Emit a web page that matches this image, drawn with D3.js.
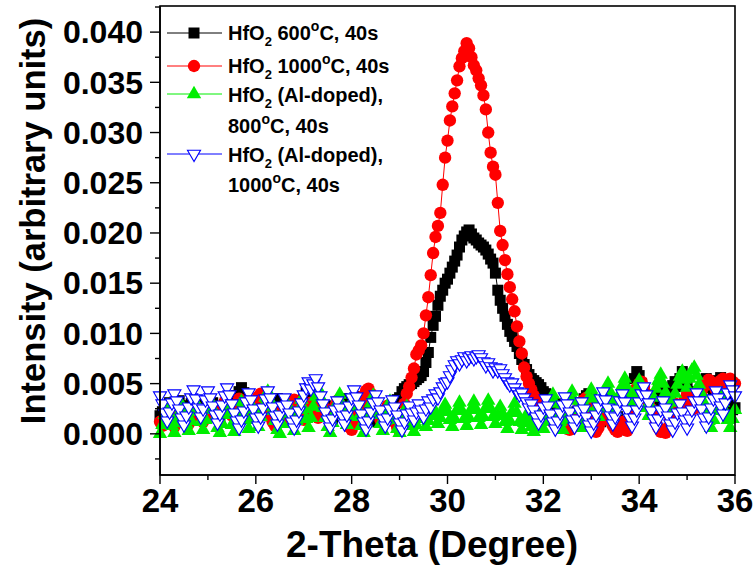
<!DOCTYPE html>
<html><head><meta charset="utf-8">
<script src="https://cdn.jsdelivr.net/npm/d3@7"></script>
<style>body{margin:0;background:#fff}svg{display:block}text{font-family:"Liberation Sans",Arial,sans-serif;font-weight:bold;fill:#000}</style>
</head><body>
<script>
// 2-Theta sampling grid: start and step (degrees)
const thetaStart = 24, thetaStep = 0.05;
const xTicks = [24,25,26,27,28,29,30,31,32,33,34,35,36];
const xLabels = ["24","26","28","30","32","34","36"];
const yTicks = [0,0.005,0.010,0.015,0.020,0.025,0.030,0.035,0.040];
const yLabels = ["0.000","0.005","0.010","0.015","0.020","0.025","0.030","0.035","0.040"];

const hfo2_600 = [
0.0018,0.0022,0.0015,0.0026,0.0031,0.0024,0.0019,0.0027,0.0033,0.0028,0.0021,0.0017,0.0025,0.0030,0.0023,0.0019,0.0026,0.0032,0.0029,0.0022,
0.0018,0.0025,0.0031,0.0027,0.0020,0.0016,0.0023,0.0029,0.0034,0.0030,0.0026,0.0033,0.0038,0.0042,0.0046,0.0041,0.0035,0.0029,0.0024,0.0020,
0.0017,0.0023,0.0028,0.0032,0.0026,0.0021,0.0018,0.0024,0.0030,0.0035,0.0031,0.0027,0.0022,0.0019,0.0025,0.0029,0.0033,0.0028,0.0024,0.0030,
0.0036,0.0041,0.0045,0.0039,0.0032,0.0027,0.0023,0.0019,0.0024,0.0028,0.0022,0.0018,0.0015,0.0021,0.0026,0.0031,0.0035,0.0030,0.0025,0.0020,
0.0016,0.0022,0.0027,0.0032,0.0037,0.0033,0.0028,0.0024,0.0019,0.0015,0.0012,0.0018,0.0023,0.0020,0.0016,0.0013,0.0019,0.0025,0.0030,0.0034,
0.0036,0.0042,0.0045,0.0047,0.0049,0.0050,0.0052,0.0054,0.0056,0.0058,0.0062,0.0071,0.0081,0.0096,0.0108,0.0117,0.0128,0.0137,0.0143,0.0150,
0.0154,0.0160,0.0166,0.0172,0.0178,0.0186,0.0193,0.0197,0.0201,0.0203,0.0199,0.0195,0.0193,0.0190,0.0188,0.0186,0.0183,0.0179,0.0174,0.0170,
0.0160,0.0143,0.0133,0.0125,0.0117,0.0109,0.0102,0.0097,0.0092,0.0087,0.0080,0.0074,0.0069,0.0064,0.0059,0.0055,0.0053,0.0051,0.0049,0.0046,
0.0042,0.0040,0.0037,0.0034,0.0032,0.0030,0.0028,0.0025,0.0020,0.0014,0.0008,0.0005,0.0010,0.0016,0.0022,0.0027,0.0031,0.0035,0.0038,0.0040,
0.0036,0.0030,0.0024,0.0018,0.0012,0.0016,0.0021,0.0026,0.0030,0.0027,0.0022,0.0017,0.0012,0.0008,0.0004,0.0010,0.0024,0.0040,0.0055,0.0062,
0.0058,0.0050,0.0043,0.0036,0.0030,0.0026,0.0032,0.0038,0.0044,0.0040,0.0034,0.0028,0.0033,0.0041,0.0048,0.0052,0.0047,0.0055,0.0062,0.0058,
0.0050,0.0042,0.0036,0.0030,0.0034,0.0040,0.0045,0.0050,0.0055,0.0052,0.0046,0.0040,0.0047,0.0053,0.0056,0.0051,0.0044,0.0036,0.0028,0.0024,
0.0026];

const hfo2_1000 = [
0.0012,0.0008,0.0015,0.0021,0.0018,0.0011,0.0007,0.0013,0.0020,0.0025,0.0019,0.0014,0.0010,0.0016,0.0023,0.0027,0.0022,0.0017,0.0012,0.0018,
0.0024,0.0029,0.0026,0.0020,0.0015,0.0021,0.0027,0.0032,0.0028,0.0022,0.0018,0.0024,0.0030,0.0035,0.0031,0.0026,0.0021,0.0017,0.0023,0.0029,
0.0033,0.0037,0.0040,0.0035,0.0029,0.0023,0.0017,0.0012,0.0008,0.0013,0.0019,0.0025,0.0021,0.0016,0.0022,0.0028,0.0034,0.0030,0.0024,0.0019,
0.0014,0.0020,0.0026,0.0031,0.0027,0.0021,0.0016,0.0022,0.0028,0.0024,0.0019,0.0015,0.0021,0.0027,0.0033,0.0029,0.0023,0.0018,0.0012,0.0007,
0.0004,0.0010,0.0018,0.0026,0.0033,0.0038,0.0043,0.0045,0.0040,0.0033,0.0026,0.0020,0.0014,0.0018,0.0023,0.0028,0.0024,0.0018,0.0012,0.0006,
0.0003,0.0012,0.0030,0.0040,0.0047,0.0056,0.0065,0.0079,0.0083,0.0088,0.0100,0.0118,0.0136,0.0158,0.0180,0.0196,0.0207,0.0220,0.0248,0.0275,
0.0292,0.0312,0.0326,0.0339,0.0352,0.0366,0.0374,0.0381,0.0389,0.0384,0.0375,0.0367,0.0362,0.0354,0.0347,0.0337,0.0323,0.0300,0.0280,0.0266,
0.0258,0.0230,0.0202,0.0188,0.0173,0.0159,0.0146,0.0134,0.0122,0.0107,0.0092,0.0080,0.0066,0.0057,0.0050,0.0044,0.0038,0.0032,0.0027,0.0024,
0.0022,0.0020,0.0018,0.0015,0.0012,0.0016,0.0020,0.0017,0.0013,0.0010,0.0007,0.0004,0.0006,0.0012,0.0019,0.0026,0.0031,0.0034,0.0036,0.0030,
0.0020,0.0008,0.0002,0.0006,0.0012,0.0018,0.0024,0.0019,0.0013,0.0008,0.0004,0.0002,0.0005,0.0012,0.0006,0.0003,0.0012,0.0025,0.0038,0.0046,
0.0050,0.0052,0.0047,0.0040,0.0032,0.0025,0.0018,0.0012,0.0006,0.0002,0.0004,0.0001,0.0006,0.0014,0.0022,0.0030,0.0026,0.0020,0.0027,0.0034,
0.0040,0.0036,0.0030,0.0025,0.0031,0.0037,0.0042,0.0047,0.0051,0.0054,0.0052,0.0048,0.0044,0.0048,0.0053,0.0055,0.0051,0.0054,0.0055,0.0052,
0.0050];

const alDoped_800 = [
0.0000,0.0009,0.0019,0.0028,0.0018,0.0008,0.0001,0.0011,0.0021,0.0029,0.0020,0.0010,0.0003,0.0013,0.0023,0.0031,0.0022,0.0012,0.0004,0.0014,
0.0024,0.0033,0.0025,0.0015,0.0006,0.0001,0.0010,0.0020,0.0029,0.0019,0.0009,0.0002,0.0012,0.0022,0.0032,0.0024,0.0014,0.0005,0.0015,0.0025,
0.0016,0.0007,0.0017,0.0027,0.0036,0.0042,0.0033,0.0023,0.0013,0.0004,0.0000,0.0010,0.0020,0.0030,0.0021,0.0011,0.0003,0.0013,0.0024,0.0034,
0.0025,0.0015,0.0006,0.0016,0.0027,0.0037,0.0045,0.0036,0.0026,0.0016,0.0007,0.0001,0.0011,0.0021,0.0031,0.0039,0.0029,0.0019,0.0009,0.0018,
0.0028,0.0036,0.0027,0.0017,0.0008,0.0001,0.0011,0.0021,0.0030,0.0038,0.0029,0.0019,0.0010,0.0003,0.0013,0.0023,0.0032,0.0024,0.0014,0.0005,
0.0001,0.0010,0.0019,0.0027,0.0018,0.0008,0.0002,0.0009,0.0017,0.0024,0.0015,0.0007,0.0013,0.0020,0.0026,0.0018,0.0010,0.0016,0.0023,0.0029,
0.0022,0.0014,0.0007,0.0015,0.0024,0.0031,0.0023,0.0015,0.0008,0.0016,0.0025,0.0032,0.0024,0.0016,0.0009,0.0017,0.0026,0.0033,0.0025,0.0017,
0.0010,0.0018,0.0027,0.0020,0.0012,0.0005,0.0013,0.0022,0.0030,0.0021,0.0012,0.0004,0.0011,0.0019,0.0014,0.0007,0.0002,0.0010,0.0018,0.0012,
0.0005,0.0013,0.0022,0.0031,0.0039,0.0030,0.0021,0.0012,0.0004,0.0014,0.0024,0.0034,0.0042,0.0033,0.0024,0.0015,0.0006,0.0016,0.0026,0.0036,
0.0044,0.0035,0.0026,0.0017,0.0025,0.0034,0.0043,0.0050,0.0041,0.0032,0.0023,0.0031,0.0040,0.0048,0.0055,0.0046,0.0037,0.0028,0.0036,0.0045,
0.0053,0.0044,0.0035,0.0026,0.0018,0.0027,0.0036,0.0045,0.0053,0.0059,0.0050,0.0041,0.0032,0.0023,0.0031,0.0040,0.0049,0.0057,0.0062,0.0054,
0.0046,0.0055,0.0063,0.0066,0.0058,0.0049,0.0040,0.0031,0.0022,0.0013,0.0006,0.0014,0.0023,0.0032,0.0040,0.0031,0.0022,0.0014,0.0006,0.0015,
0.0024];

const alDoped_1000 = [
0.0038,0.0030,0.0021,0.0013,0.0022,0.0031,0.0040,0.0033,0.0025,0.0016,0.0009,0.0018,0.0027,0.0036,0.0044,0.0035,0.0026,0.0017,0.0025,0.0034,
0.0043,0.0036,0.0028,0.0019,0.0011,0.0020,0.0029,0.0038,0.0046,0.0039,0.0030,0.0021,0.0013,0.0006,0.0014,0.0023,0.0032,0.0041,0.0034,0.0025,
0.0016,0.0008,0.0017,0.0026,0.0035,0.0043,0.0036,0.0027,0.0018,0.0010,0.0019,0.0028,0.0036,0.0029,0.0021,0.0012,0.0006,0.0014,0.0023,0.0031,
0.0039,0.0046,0.0052,0.0045,0.0050,0.0055,0.0047,0.0038,0.0030,0.0022,0.0014,0.0007,0.0015,0.0024,0.0033,0.0026,0.0018,0.0010,0.0019,0.0028,
0.0036,0.0044,0.0037,0.0029,0.0020,0.0012,0.0005,0.0013,0.0022,0.0031,0.0039,0.0032,0.0024,0.0015,0.0008,0.0016,0.0025,0.0034,0.0027,0.0019,
0.0011,0.0004,0.0012,0.0020,0.0028,0.0021,0.0014,0.0022,0.0030,0.0024,0.0017,0.0025,0.0033,0.0027,0.0035,0.0040,0.0036,0.0042,0.0047,0.0051,
0.0052,0.0058,0.0064,0.0069,0.0073,0.0070,0.0074,0.0077,0.0073,0.0076,0.0078,0.0075,0.0077,0.0079,0.0076,0.0072,0.0068,0.0071,0.0067,0.0063,
0.0066,0.0063,0.0065,0.0060,0.0056,0.0052,0.0049,0.0051,0.0046,0.0042,0.0039,0.0041,0.0036,0.0032,0.0026,0.0030,0.0024,0.0017,0.0011,0.0019,
0.0027,0.0035,0.0028,0.0020,0.0012,0.0005,0.0013,0.0021,0.0029,0.0037,0.0030,0.0022,0.0014,0.0007,0.0015,0.0024,0.0032,0.0025,0.0017,0.0009,
0.0003,0.0011,0.0019,0.0027,0.0035,0.0042,0.0034,0.0026,0.0018,0.0010,0.0017,0.0025,0.0033,0.0040,0.0032,0.0024,0.0016,0.0008,0.0016,0.0024,
0.0032,0.0040,0.0047,0.0039,0.0031,0.0023,0.0015,0.0007,0.0015,0.0024,0.0033,0.0026,0.0018,0.0010,0.0004,0.0012,0.0021,0.0030,0.0022,0.0014,
0.0006,0.0015,0.0024,0.0033,0.0041,0.0033,0.0025,0.0016,0.0008,0.0017,0.0026,0.0035,0.0043,0.0036,0.0028,0.0020,0.0031,0.0041,0.0049,0.0044,
0.0038];

const W = 756, H = 567;
const svg = d3.select("body").append("svg").attr("width", W).attr("height", H);
svg.append("rect").attr("width", W).attr("height", H).attr("fill", "#fff");

const x = d3.scaleLinear().domain([24, 36]).range([160, 735]);
const y = d3.scaleLinear().domain([-0.0041, 0.0426]).range([475, 6]);

const series = [
  {vals: hfo2_600, color: "#000000", shape: "square"},
  {vals: hfo2_1000, color: "#ff0000", shape: "circle"},
  {vals: alDoped_800, color: "#00ee00", shape: "up"},
  {vals: alDoped_1000, color: "#0000ff", shape: "down"}
];

function markerPath(shape) {
  if (shape === "square") return d3.symbol(d3.symbolSquare, 121)();
  if (shape === "circle") return d3.symbol(d3.symbolCircle, 120)();
  if (shape === "down") return d3.symbol(d3.symbolTriangle, 74)();
  return d3.symbol(d3.symbolTriangle, 90)();
}
function drawMarker(g, shape, color, cx, cy) {
  const p = g.append("path").attr("d", markerPath(shape))
    .attr("transform", `translate(${cx},${cy})` + (shape === "down" ? " rotate(180)" : ""));
  if (shape === "down") p.attr("fill", "#fff").attr("stroke", color).attr("stroke-width", 1.1);
  else p.attr("fill", color);
}

const plot = svg.append("g");
series.forEach(s => {
  const pts = s.vals.map((v, i) => [thetaStart + i * thetaStep, v]);
  plot.append("path").datum(pts)
    .attr("d", d3.line().x(d => x(d[0])).y(d => y(d[1])))
    .attr("fill", "none").attr("stroke", s.color).attr("stroke-width", 1);
  const g = plot.append("g");
  pts.forEach(d => drawMarker(g, s.shape, s.color, x(d[0]), y(d[1])));
});

// frame
svg.append("rect").attr("x", 160).attr("y", 6).attr("width", 575).attr("height", 469)
  .attr("fill", "none").attr("stroke", "#000").attr("stroke-width", 1.6);

// x axis
const xAxis = svg.append("g").attr("transform", "translate(0,475)");
xAxis.append("path").attr("d", `M160,0H735`).attr("stroke", "#000").attr("stroke-width", 1.6);
xTicks.forEach(t => {
  const major = t % 2 === 0;
  xAxis.append("line").attr("x1", x(t)).attr("x2", x(t)).attr("y1", 0).attr("y2", major ? 9 : 5)
    .attr("stroke", "#000").attr("stroke-width", 1.4);
});
xLabels.forEach(l => {
  xAxis.append("text").attr("x", x(+l)).attr("y", 37).attr("text-anchor", "middle")
    .attr("font-size", 33).text(l);
});

// y axis
const yAxis = svg.append("g").attr("transform", "translate(160,0)");
yAxis.append("path").attr("d", `M0,6V475`).attr("stroke", "#000").attr("stroke-width", 1.6);
yTicks.forEach((t, i) => {
  yAxis.append("line").attr("x1", -10).attr("x2", 0).attr("y1", y(t)).attr("y2", y(t))
    .attr("stroke", "#000").attr("stroke-width", 1.4);
  yAxis.append("text").attr("x", -17).attr("y", y(t)).attr("dy", "0.35em")
    .attr("text-anchor", "end").attr("font-size", 32).text(yLabels[i]);
});
const yMinor = [-0.0025,0.0025,0.0075,0.0125,0.0175,0.0225,0.0275,0.0325,0.0375,0.0425];
yMinor.forEach(t => {
  yAxis.append("line").attr("x1", -5).attr("x2", 0).attr("y1", y(t)).attr("y2", y(t))
    .attr("stroke", "#000").attr("stroke-width", 1.4);
});

// axis titles
svg.append("text").attr("x", 432).attr("y", 557).attr("text-anchor", "middle")
  .attr("font-size", 37).text("2-Theta (Degree)");
svg.append("text").attr("transform", "translate(45,221) rotate(-90)").attr("text-anchor", "middle")
  .attr("font-size", 34.5).text("Intensity (arbitrary units)");

// legend
const legend = svg.append("g");
const legRows = [
  {my: 33, base: 40, s: 0, line1: ["HfO", "2", " 600", "o", "C, 40s"]},
  {my: 66, base: 73, s: 1, line1: ["HfO", "2", " 1000", "o", "C, 40s"]},
  {my: 94, base: 102, s: 2, line1: ["HfO", "2", " (Al-doped),"], line2: ["800", "o", "C, 40s"], base2: 133},
  {my: 154, base: 162, s: 3, line1: ["HfO", "2", " (Al-doped),"], line2: ["1000", "o", "C, 40s"], base2: 192}
];
legRows.forEach(r => {
  const s = series[r.s];
  legend.append("line").attr("x1", 167).attr("x2", 222).attr("y1", r.my).attr("y2", r.my)
    .attr("stroke", s.color).attr("stroke-width", 1);
  drawMarker(legend, s.shape, s.color, 194, r.my);
  const t = legend.append("text").attr("x", 228).attr("y", r.base).attr("font-size", 20);
  t.append("tspan").text(r.line1[0]);
  t.append("tspan").attr("font-size", 13).attr("dy", 6).text(r.line1[1]);
  t.append("tspan").attr("dy", -6).text(r.line1[2]);
  if (r.line1.length > 3) {
    t.append("tspan").attr("font-size", 14).attr("dy", -9).text(r.line1[3]);
    t.append("tspan").attr("dy", 9).text(r.line1[4]);
  }
  if (r.line2) {
    const t2 = legend.append("text").attr("x", 228).attr("y", r.base2).attr("font-size", 20);
    t2.append("tspan").text(r.line2[0]);
    t2.append("tspan").attr("font-size", 14).attr("dy", -9).text(r.line2[1]);
    t2.append("tspan").attr("dy", 9).text(r.line2[2]);
  }
});
</script>
</body></html>
